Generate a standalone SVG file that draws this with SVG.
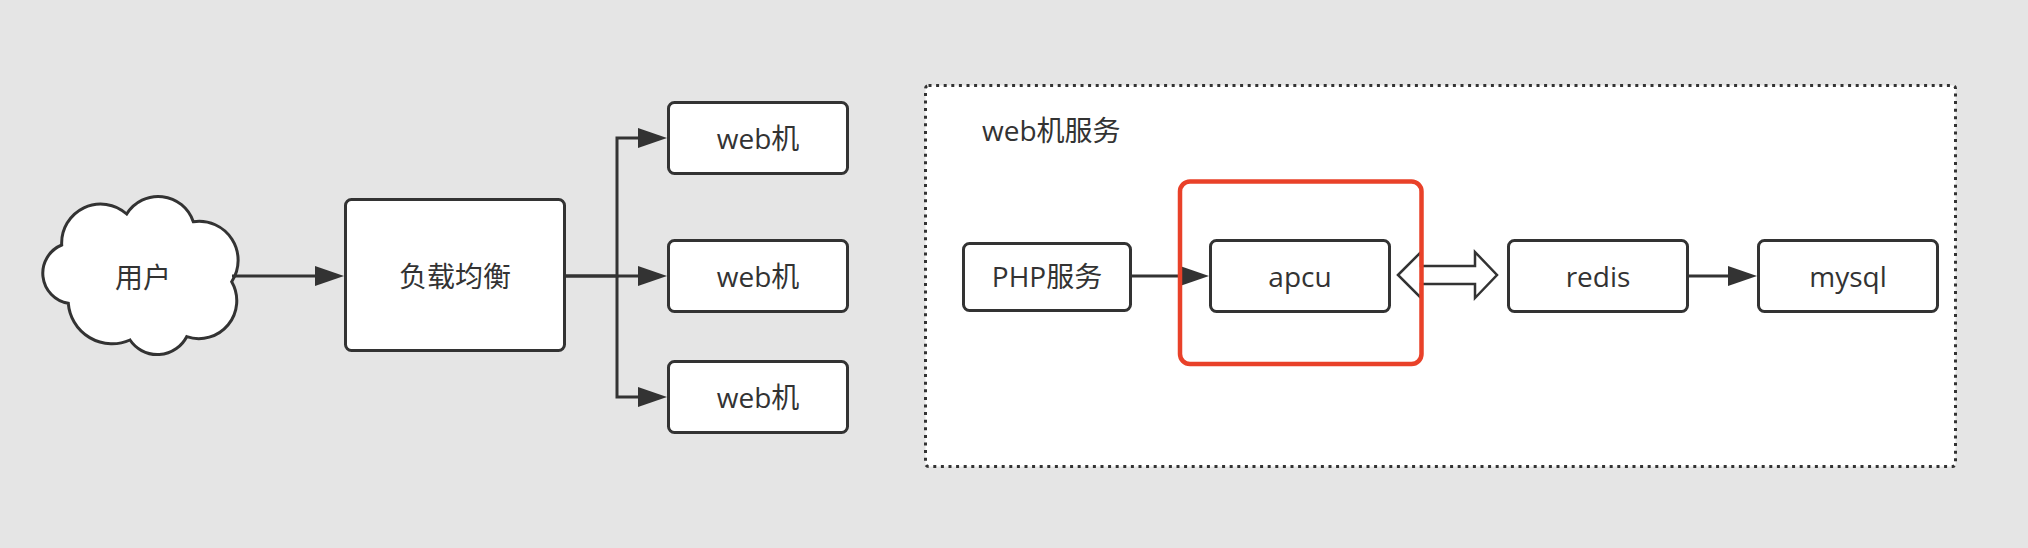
<svg xmlns="http://www.w3.org/2000/svg" width="2028" height="548" viewBox="0 0 2028 548">
<defs>
<style>
.box{fill:#fff;stroke:#333;stroke-width:3}
.lbl{font-family:"Open Sans","Noto Sans CJK SC",sans-serif;font-size:28px;fill:#333;text-anchor:middle}
.ttl{font-family:"Open Sans","Noto Sans CJK SC",sans-serif;font-size:28px;fill:#333}
.con{fill:none;stroke:#333;stroke-width:3;marker-end:url(#arr)}
</style>
<marker id="arr" markerUnits="userSpaceOnUse" markerWidth="30" markerHeight="22" refX="23" refY="11" orient="auto">
<path d="M0,1 L29,11 L0,21 Z" fill="#333"/>
</marker>
</defs>
<rect width="2028" height="548" fill="#e5e5e5"/>
<g id="container">
<rect x="925.5" y="85.5" width="1030" height="381" rx="3" fill="#fff" stroke="#333" stroke-width="3" stroke-dasharray="3 4.6"/>
<text class="ttl" x="982" y="141">web机服务</text>
</g>
<g id="user">
<path class="box" d="M61.7,245 A39,39 0 0 1 126.7,214 A37,37 0 0 1 193.3,221.7 A39,39 0 0 1 231.7,281.7 A38,38 0 0 1 186.7,336.7 A33,33 0 0 1 130,340 A44,44 0 0 1 68.3,303.3 A30.5,30.5 0 0 1 61.7,245 Z"/>
<text class="lbl" x="143" y="288">用户</text>
</g>
<g id="lb">
<rect class="box" x="345.5" y="199.5" width="219" height="151" rx="6"/>
<text class="lbl" x="455" y="287">负载均衡</text>
</g>
<g id="web1">
<rect class="box" x="668.5" y="102.5" width="179" height="71" rx="6"/>
<text class="lbl" x="758" y="149">web机</text>
</g>
<g id="web2">
<rect class="box" x="668.5" y="240.5" width="179" height="71" rx="6"/>
<text class="lbl" x="758" y="287">web机</text>
</g>
<g id="web3">
<rect class="box" x="668.5" y="361.5" width="179" height="71" rx="6"/>
<text class="lbl" x="758" y="408">web机</text>
</g>
<g id="php">
<rect class="box" x="963.5" y="243.5" width="167" height="67" rx="6"/>
<text class="lbl" x="1047" y="287">PHP服务</text>
</g>
<g id="apcu">
<rect class="box" x="1210.5" y="240.5" width="179" height="71" rx="6"/>
<text class="lbl" x="1300" y="287">apcu</text>
</g>
<g id="redis">
<rect class="box" x="1508.5" y="240.5" width="179" height="71" rx="6"/>
<text class="lbl" x="1598" y="287">redis</text>
</g>
<g id="mysql">
<rect class="box" x="1758.5" y="240.5" width="179" height="71" rx="6"/>
<text class="lbl" x="1848" y="287">mysql</text>
</g>
<g id="connectors">
<path class="con" d="M232,276 H338"/>
<path class="con" d="M566,276 H617 V138 H661"/>
<path class="con" d="M566,276 H661"/>
<path class="con" d="M617,276 V397 H661"/>
<path class="con" d="M1132,276 H1203"/>
<path class="con" d="M1689,276 H1751"/>
<polygon points="1398,275 1421,252 1421,266 1475,266 1475,252 1497,275 1475,298 1475,284 1421,284 1421,298" fill="#fff" stroke="#333" stroke-width="2.5" stroke-linejoin="miter"/>
</g>
<g id="highlight">
<rect x="1180" y="181.5" width="241.5" height="182.5" rx="10" fill="none" stroke="#e94129" stroke-width="4.5"/>
</g>
</svg>
